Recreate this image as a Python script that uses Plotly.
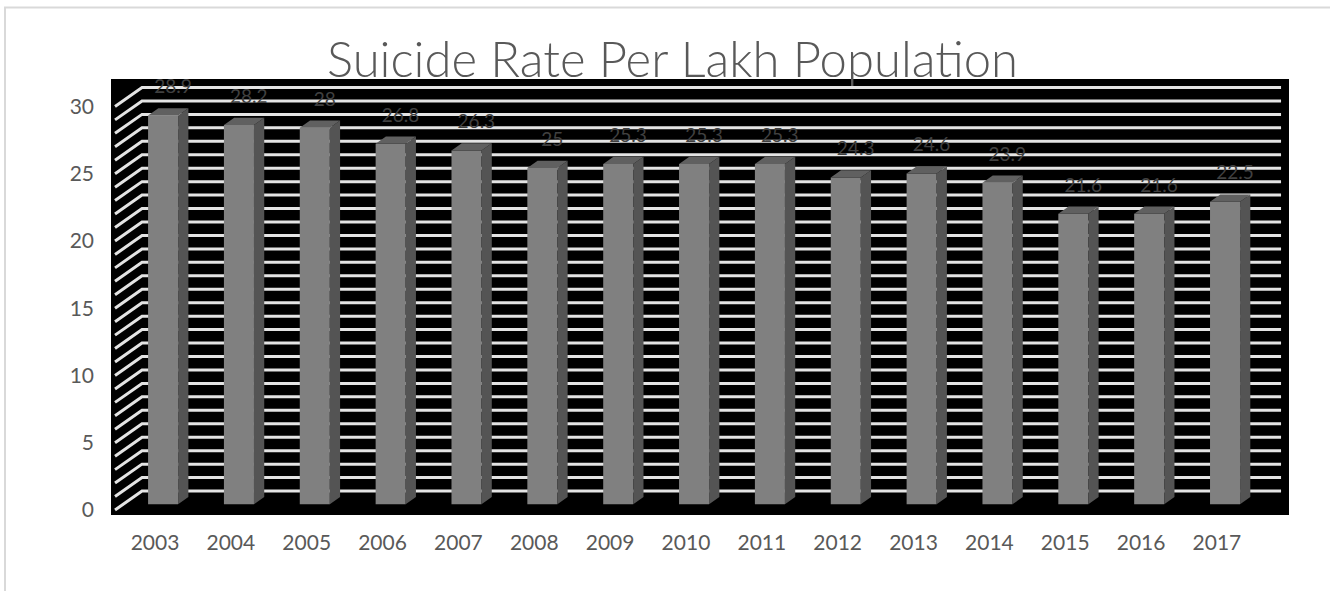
import numpy as np
import plotly.graph_objects as go

# Suicide rate per lakh population, 2003-2017
years = ["2003", "2004", "2005", "2006", "2007", "2008", "2009", "2010",
         "2011", "2012", "2013", "2014", "2015", "2016", "2017"]
rates = [28.9, 28.2, 28.0, 26.8, 26.3, 25.0, 25.3, 25.3,
         25.3, 24.3, 24.6, 23.9, 21.6, 21.6, 22.5]
y_ticks = [0, 5, 10, 15, 20, 25, 30]

W, H = 1330, 591
M_L, M_R, M_T, M_B = 111, 41, 79, 76
PW, PH = W - M_L - M_R, H - M_T - M_B

# oblique projection: full depth shifts a point right (x units) and up (y units)
DX, DY = 0.356, 1.41
X_RANGE = [-0.580, 14.95]
Y_RANGE = [-0.372, 32.04]

D0, DD = 0.30, 0.38          # bar front depth and bar thickness (fraction of depth)
BAR_W = 0.396

idx = np.arange(len(years))
xc = idx + D0 * DX            # bar centre on its front face
base = D0 * DY

fig = go.Figure()

# back-wall gridlines and side-wall diagonals, kept underneath the columns
grid_vals = np.arange(0, 31)
path = ""
for v in grid_vals:
    path += (f"M{-0.527:.4f},{v:.4f} L{-0.527 + DX:.4f},{v + DY:.4f} "
             f"L14.845,{v + DY:.4f} ")
grid_shape = dict(type="path", xref="x", yref="y", path=path.strip(),
                  line=dict(color="#e4e4e4", width=3), layer="below")

# front faces
fig.add_trace(go.Bar(x=xc, y=rates, base=base, width=BAR_W,
                     marker=dict(color="#808080", line=dict(width=0)),
                     hoverinfo="skip", showlegend=False))

# side and top faces
sx, sy, tx, ty = [], [], [], []
for x0, r in zip(xc, rates):
    xl, xr = x0 - BAR_W / 2, x0 + BAR_W / 2
    top = r + base
    ox, oy = DD * DX, DD * DY
    sx += [xr, xr, xr + ox, xr + ox, xr, None]
    sy += [base, top, top + oy, base + oy, base, None]
    tx += [xl, xr, xr + ox, xl + ox, xl, None]
    ty += [top, top, top + oy, top + oy, top, None]
fig.add_trace(go.Scatter(x=sx, y=sy, mode="lines", fill="toself",
                         fillcolor="#545454", line=dict(width=0, color="#545454"),
                         hoverinfo="skip", showlegend=False))
fig.add_trace(go.Scatter(x=tx, y=ty, mode="lines", fill="toself",
                         fillcolor="#606060", line=dict(width=0, color="#606060"),
                         hoverinfo="skip", showlegend=False))

# value labels above each column
fig.add_trace(go.Scatter(
    x=xc + 0.13, y=np.array(rates) + base + 2.0, mode="text",
    text=[f"{r:g}" for r in rates], textposition="middle center",
    textfont=dict(family="Lato", size=19, color="#404040"),
    hoverinfo="skip", showlegend=False))

fig.update_layout(
    width=W, height=H,
    margin=dict(l=M_L, r=M_R, t=M_T, b=M_B),
    paper_bgcolor="white", plot_bgcolor="black",
    font=dict(family="Lato", color="#595959"),
    showlegend=False,
    xaxis=dict(range=X_RANGE, tickvals=idx, ticktext=years, showgrid=False,
               zeroline=False, showline=False, ticks="",
               tickfont=dict(size=21, color="#595959"), ticklabelstandoff=13,
               fixedrange=True),
    yaxis=dict(range=Y_RANGE, tickvals=y_ticks, showgrid=False,
               zeroline=False, showline=False, ticks="",
               tickfont=dict(size=21, color="#595959"), ticklabelstandoff=16,
               fixedrange=True),
    annotations=[dict(
        text="Suicide Rate Per Lakh Population", xref="paper", yref="paper",
        x=(672 - M_L) / PW, y=(H - M_B - 58) / PH, xanchor="center", yanchor="middle",
        showarrow=False,
        font=dict(family="Lato", size=49, color="#595959", weight=300))],
    shapes=[
        grid_shape,
        dict(type="line", xref="paper", yref="paper",
             x0=(4 - M_L) / PW, x1=(W + 5 - M_L) / PW,
             y0=(H - M_B - 7.5) / PH, y1=(H - M_B - 7.5) / PH,
             line=dict(color="#d9d9d9", width=2), layer="below"),
        dict(type="line", xref="paper", yref="paper",
             x0=(5 - M_L) / PW, x1=(5 - M_L) / PW,
             y0=(H - M_B - 7) / PH, y1=(H - M_B - H - 5) / PH,
             line=dict(color="#d9d9d9", width=2), layer="below"),
    ],
)

fig.write_html("out.html")
